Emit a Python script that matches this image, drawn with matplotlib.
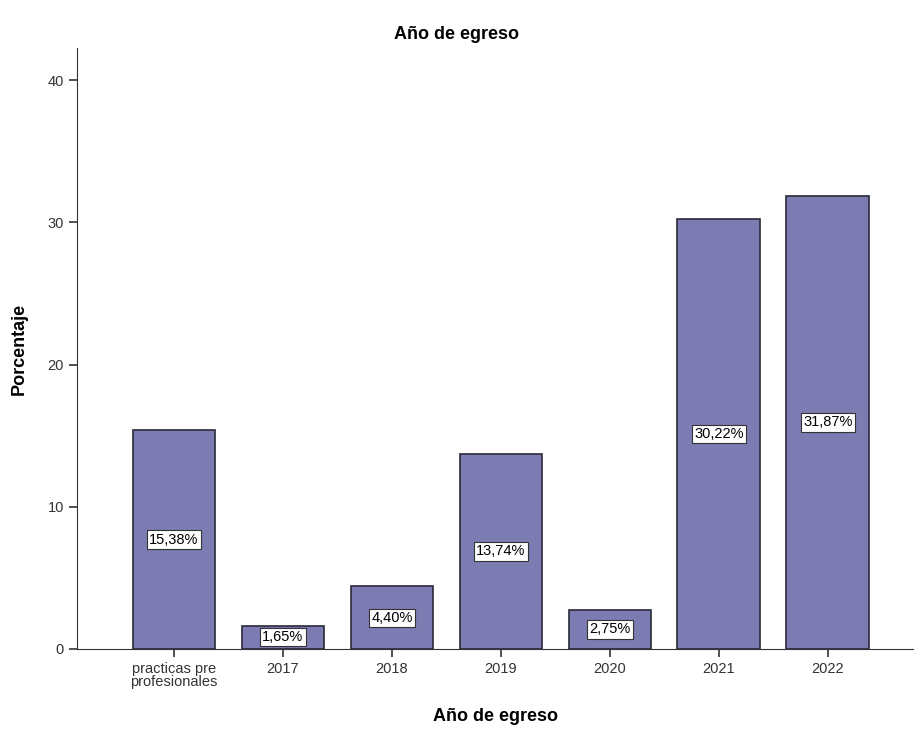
import matplotlib

matplotlib.use("Agg")
import matplotlib.pyplot as plt

categories = ["practicas pre\nprofesionales", "2017", "2018", "2019", "2020", "2021", "2022"]
percentages = [15.38, 1.65, 4.40, 13.74, 2.75, 30.22, 31.87]
value_labels = ["15,38%", "1,65%", "4,40%", "13,74%", "2,75%", "30,22%", "31,87%"]
y_ticks = [0, 10, 20, 30, 40]

plt.rcParams["font.family"] = ["Liberation Sans", "DejaVu Sans"]

fig = plt.figure(figsize=(9.14, 7.32), dpi=100)
ax = fig.add_axes([0.0842, 0.1134, 0.9158, 0.8206])

x = list(range(len(categories)))
ax.bar(x, percentages, width=0.76, color="#7c7cb2", edgecolor="#2a2a3a", linewidth=1.2, zorder=2)

for xi, val, lab in zip(x, percentages, value_labels):
    ax.text(xi, val / 2, lab, ha="center", va="center", fontsize=10.5, zorder=3,
            bbox=dict(boxstyle="square,pad=0.15", facecolor="white", edgecolor="#333333", linewidth=0.8))

ax.set_xlim(-0.89, 6.79)
ax.set_ylim(0, 42.25)
ax.set_xticks(x)
ax.set_xticklabels(categories, fontsize=10.5, linespacing=0.85, color="#333333")
ax.set_yticks(y_ticks)
ax.set_yticklabels([str(t) for t in y_ticks], fontsize=10.5, color="#333333")
ax.tick_params(axis="both", direction="out", length=6, width=1.2, color="#333333")

ax.spines["top"].set_visible(False)
ax.spines["right"].set_visible(False)
ax.spines["left"].set_color("#333333")
ax.spines["bottom"].set_color("#333333")

ax.set_ylabel("Porcentaje", fontsize=13, fontweight="bold", labelpad=14)
ax.set_xlabel("Año de egreso", fontsize=13, fontweight="bold", labelpad=14)
fig.suptitle("Año de egreso", fontsize=13, fontweight="bold", y=0.965)

fig.savefig("out.png", dpi=100)
